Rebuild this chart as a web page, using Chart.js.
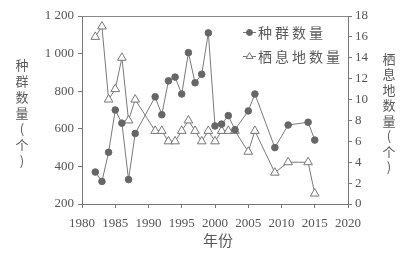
<!DOCTYPE html>
<html>
<head>
<meta charset="utf-8">
<script src="https://cdn.jsdelivr.net/npm/chart.js@4.4.1/dist/chart.umd.min.js"></script>
<style>
  html, body { margin: 0; padding: 0; background: #fff; }
  #wrap { width: 408px; height: 255px; }
</style>
</head>
<body>
<div id="wrap"><canvas id="popChart" width="408" height="255"></canvas></div>
<script>
// values
const years = [1982, 1983, 1984, 1985, 1986, 1987, 1988, 1991, 1992, 1993, 1994, 1995, 1996,
    1997, 1998, 1999, 2000, 2001, 2002, 2003, 2005, 2006, 2009, 2011, 2014, 2015];
const population = [370, 320, 475, 700, 630, 330, 575, 770, 675, 855, 875, 785, 1005,
    845, 890, 1110, 615, 625, 670, 595, 695, 785, 500, 620, 635, 540];
const habitat = [16, 17, 10, 11, 14, 8, 10, 7, 7, 6, 6, 7, 8,
    7, 6, 7, 6, 7, 7, 7, 5, 7, 3, 4, 4, 1];

const xTicks = [1980, 1985, 1990, 1995, 2000, 2005, 2010, 2015, 2020];
const popTicks = [200, 400, 600, 800, 1000, 1200];
const habTicks = [0, 2, 4, 6, 8, 10, 12, 14, 16, 18];

const seriesNames = ["种群数量", "栖息地数量"];
const xTitle = "年份";
const leftTitle = "种群数量(个)";
const rightTitle = "栖息地数量(个)";

const ink = "#555";
const lineGray = "#7a7a7a";
const numFont = { family: "'Liberation Serif', 'DejaVu Serif', serif", size: 13 };
const cjk = "'Noto Sans CJK SC', sans-serif";

function spaced(v) {
    return String(v).replace(/\B(?=(\d{3})+(?!\d))/g, " ");
}

const extras = {
    id: "extras",
    afterDraw(chart) {
        const c = chart.ctx;
        const a = chart.chartArea;
        c.save();
        // top frame line
        c.strokeStyle = "#888";
        c.lineWidth = 1;
        c.beginPath();
        c.moveTo(a.left, a.top + 0.5);
        c.lineTo(a.right, a.top + 0.5);
        c.stroke();

        c.fillStyle = "#5a5a5a";
        c.textAlign = "center";
        c.textBaseline = "middle";

        // x title
        c.font = "15px " + cjk;
        c.fillText(xTitle, (a.left + a.right) / 2 + 3, 240);

        // vertical stacked titles
        c.font = "13px " + cjk;
        const mid = (a.top + a.bottom) / 2 + 3;
        let chars = Array.from(leftTitle);
        let step = 16;
        let y0 = mid - (chars.length - 1) * step / 2;
        chars.forEach((ch, i) => c.fillText(ch, 22, y0 + i * step));
        chars = Array.from(rightTitle);
        step = 15.5;
        y0 = mid - (chars.length - 1) * step / 2;
        chars.forEach((ch, i) => c.fillText(ch, 389, y0 + i * step));

        // legend inside the plot
        const lx = 243, rows = [32.5, 56.5];
        chart.data.datasets.forEach((ds, i) => {
            const y = rows[i];
            c.strokeStyle = lineGray;
            c.lineWidth = 1;
            c.beginPath();
            c.moveTo(lx, y);
            c.lineTo(lx + 13, y);
            c.stroke();
            c.fillStyle = ds.pointBackgroundColor;
            c.strokeStyle = ds.pointBorderColor;
            Chart.helpers.drawPoint(c, {
                pointStyle: ds.pointStyle,
                radius: ds.pointStyle === "triangle" ? 4 : 3,
                rotation: 0,
                borderWidth: 1
            }, lx + 6.5, y);
            c.fillStyle = "#5a5a5a";
            c.textAlign = "left";
            c.font = "14px " + cjk;
            c.letterSpacing = "3px";
            c.fillText(ds.label, lx + 15, y);
            c.letterSpacing = "0px";
        });
        c.restore();
    }
};

const ctx = document.getElementById("popChart").getContext("2d");
const chart = new Chart(ctx, {
    type: "line",
    data: {
        datasets: [
            {
                label: seriesNames[0],
                data: years.map((yr, i) => ({ x: yr, y: population[i] })),
                yAxisID: "y",
                borderColor: lineGray,
                borderWidth: 1,
                pointStyle: "circle",
                pointRadius: 3.3,
                pointBackgroundColor: "#666",
                pointBorderColor: "#666",
                pointBorderWidth: 1,
                tension: 0
            },
            {
                label: seriesNames[1],
                data: years.map((yr, i) => ({ x: yr, y: habitat[i] })),
                yAxisID: "y1",
                borderColor: lineGray,
                borderWidth: 1,
                pointStyle: "triangle",
                pointRadius: 5,
                pointBackgroundColor: "#fff",
                pointBorderColor: "#777",
                pointBorderWidth: 1,
                tension: 0
            }
        ]
    },
    options: {
        responsive: false,
        animation: false,
        layout: { padding: { top: 16, left: 0, right: 0, bottom: 0 } },
        plugins: { legend: { display: false }, tooltip: { enabled: false } },
        scales: {
            x: {
                type: "linear",
                min: 1980,
                max: 2020,
                afterBuildTicks: (s) => { s.ticks = xTicks.map((v) => ({ value: v })); },
                afterFit: (s) => { s.height = 51; },
                ticks: { color: ink, font: numFont, padding: 8, maxRotation: 0, callback: (v) => String(v) },
                grid: { drawOnChartArea: false, tickLength: 4, color: "#777" },
                border: { color: "#777" }
            },
            y: {
                position: "left",
                min: 200,
                max: 1200,
                afterBuildTicks: (s) => { s.ticks = popTicks.map((v) => ({ value: v })); },
                afterFit: (s) => { s.width = 82; },
                ticks: { color: ink, font: numFont, padding: 4, callback: (v) => spaced(v) },
                grid: { drawOnChartArea: false, tickLength: 4, color: "#777" },
                border: { color: "#777" }
            },
            y1: {
                position: "right",
                min: 0,
                max: 18,
                afterBuildTicks: (s) => { s.ticks = habTicks.map((v) => ({ value: v })); },
                afterFit: (s) => { s.width = 60; },
                ticks: { color: ink, font: numFont, padding: 3, callback: (v) => String(v) },
                grid: { drawOnChartArea: false, tickLength: 4, color: "#777" },
                border: { color: "#777" }
            }
        }
    },
    plugins: [extras]
});
</script>
</body>
</html>
